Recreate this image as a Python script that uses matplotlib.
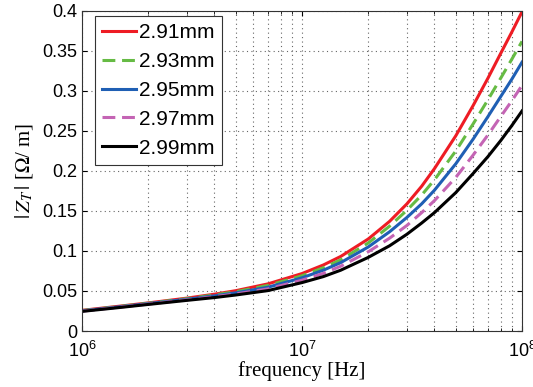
import matplotlib
matplotlib.use('Agg')
import matplotlib.pyplot as plt
import matplotlib.ticker as mticker
import numpy as np

# frequencies (Hz) and |Z_T| (Ohm/m)
freq = [1e6, 1.5e6, 2e6, 3e6, 4e6, 5e6, 7e6, 1e7, 1.25e7, 1.5e7, 2e7, 2.5e7, 3e7,
        3.5e7, 4e7, 5e7, 6e7, 7e7, 8e7, 9e7, 1e8]
z_291 = [0.0258, 0.0312, 0.0351, 0.0411, 0.0460, 0.0504, 0.0589, 0.0718, 0.0825, 0.0932, 0.115,
         0.137, 0.159, 0.181, 0.203, 0.244, 0.282, 0.316, 0.347, 0.374, 0.399]
z_293 = [0.0255, 0.0308, 0.0347, 0.0404, 0.0450, 0.0491, 0.0569, 0.0690, 0.079, 0.089, 0.110,
         0.131, 0.151, 0.170, 0.189, 0.225, 0.259, 0.289, 0.316, 0.340, 0.362]
z_295 = [0.0252, 0.0304, 0.0342, 0.0397, 0.0439, 0.0477, 0.0547, 0.0665, 0.076, 0.0855, 0.105,
         0.124, 0.142, 0.159, 0.176, 0.209, 0.240, 0.268, 0.293, 0.315, 0.336]
z_297 = [0.0248, 0.0300, 0.0337, 0.0390, 0.0428, 0.0463, 0.0526, 0.0635, 0.072, 0.081, 0.099,
         0.116, 0.132, 0.148, 0.163, 0.192, 0.220, 0.245, 0.268, 0.288, 0.307]
z_299 = [0.0245, 0.0295, 0.0332, 0.0383, 0.0418, 0.0450, 0.0505, 0.0605, 0.068, 0.076, 0.092,
         0.1065, 0.121, 0.135, 0.148, 0.173, 0.197, 0.218, 0.238, 0.257, 0.275]

labels = ['2.91mm', '2.93mm', '2.95mm', '2.97mm', '2.99mm']
colors = ['#ee1c24', '#66bb44', '#1f5fb4', '#c464b4', '#000000']
styles = ['-', '--', '-', '--', '-']
series = [z_291, z_293, z_295, z_297, z_299]

plt.rcParams['font.family'] = ['Liberation Sans', 'DejaVu Sans']
plt.rcParams['mathtext.fontset'] = 'stix'

fig = plt.figure(figsize=(5.33, 3.87), dpi=100)
ax = fig.add_axes([0.1538, 0.1447, 0.8256, 0.8269])

for z, lab, c, ls in zip(series, labels, colors, styles):
    line, = ax.plot(freq, z, ls, color=c, lw=2.2, label=lab)
    if ls == '--':
        line.set_dashes((4.2, 2.2))

ax.set_xscale('log')
ax.set_xlim(1e6, 1e8)
ax.set_ylim(0, 0.4)
ax.set_yticks(np.arange(0, 0.41, 0.05))
ax.yaxis.set_major_formatter(mticker.FuncFormatter(lambda v, p: '%g' % round(v, 2)))

grid_kw = dict(linestyle=(0, (1, 3)), color='#666666', lw=0.8)
ax.grid(True, which='major', **grid_kw)
ax.grid(True, which='minor', axis='x', **grid_kw)
ax.tick_params(which='both', direction='in', top=True, right=True, labelsize=13)
ax.tick_params(axis='x', pad=7)
for s in ax.spines.values():
    s.set_color('#333333')

ax.set_xlabel('frequency [Hz]', family='Liberation Serif', fontsize=15, labelpad=0)
ax.set_ylabel(r'$|\,Z_T\,|$ [$\Omega$/ m]', family='Liberation Serif', fontsize=15, labelpad=5)

leg = ax.legend(loc='upper left', bbox_to_anchor=(0.03, 0.984), borderaxespad=0,
                fontsize=15, fancybox=False, edgecolor='#333333', framealpha=1,
                handlelength=1.6, handletextpad=0.15, borderpad=0.35, labelspacing=0.47)
leg.get_frame().set_linewidth(0.8)

fig.savefig('out.png', dpi=100)
